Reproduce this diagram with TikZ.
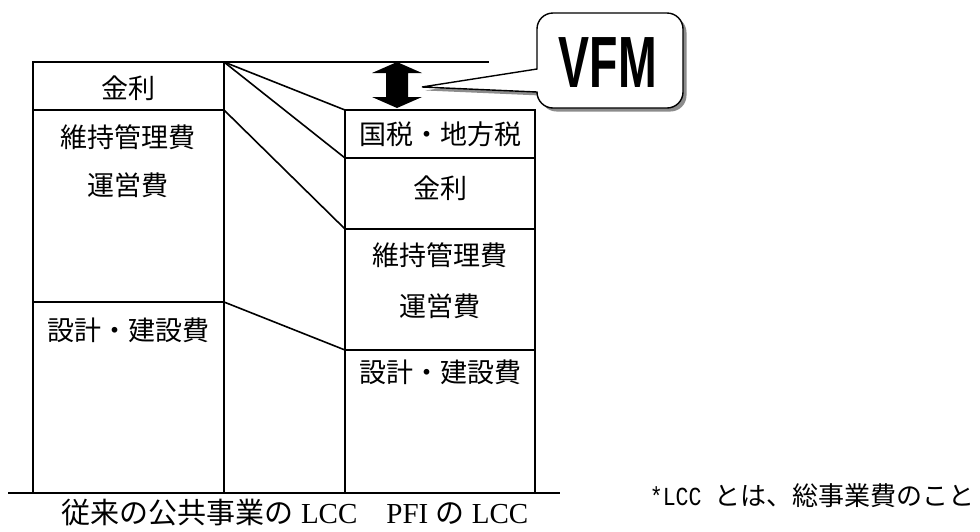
\documentclass[tikz,border=0pt]{standalone}
\usepackage{fontspec}
\usepackage{graphicx}
\setmainfont{Liberation Serif}
\newfontfamily\jp{Noto Sans CJK JP}
\newfontfamily\monofam{Liberation Mono}
\newfontfamily\vfmfam{Liberation Sans}
\begin{document}
\begin{tikzpicture}[x=1pt,y=-1pt,line width=1.6pt,line join=miter,
  lbl/.style={inner sep=0pt,font=\jp\fontsize{27}{27}\selectfont},
  capt/.style={inner sep=0pt,font=\fontsize{29}{29}\selectfont},
  note/.style={inner sep=0pt,anchor=west,font=\fontsize{26}{26}\selectfont}]
\useasboundingbox (0,0) rectangle (980,531);
% coordinates
\coordinate (LTL) at (33,62);   \coordinate (LTR) at (224,62);
\coordinate (TEND) at (489,62);
\coordinate (L1L) at (33,110);  \coordinate (L1R) at (224,110);
\coordinate (L2L) at (33,302);  \coordinate (L2R) at (224,302);
\coordinate (LBL) at (33,493);  \coordinate (LBR) at (224,493);
\coordinate (RTL) at (345,110); \coordinate (RTR) at (535,110);
\coordinate (R1L) at (345,158); \coordinate (R1R) at (535,158);
\coordinate (R2L) at (345,229); \coordinate (R2R) at (535,229);
\coordinate (R3L) at (345,350); \coordinate (R3R) at (535,350);
\coordinate (RBL) at (345,493); \coordinate (RBR) at (535,493);
\coordinate (BL) at (8,493);    \coordinate (BR) at (560,493);
% left column
\draw (LBL) -- (LTL) -- (TEND);
\draw (LTR) -- (LBR);
\draw (L1L) -- (L1R);
\draw (L2L) -- (L2R);
% right column
\draw (RBL) -- (RTL) -- (RTR) -- (RBR);
\draw (R1L) -- (R1R);
\draw (R2L) -- (R2R);
\draw (R3L) -- (R3R);
% connectors
\draw (LTR) -- (RTL);
\draw (LTR) -- (R1L);
\draw (L1R) -- (R2L);
\draw (L2R) -- (R3L);
% base line
\draw[line width=1.9pt] (BL) -- (BR);
% double arrow
\fill (397,62) -- (422,73) -- (408,73) -- (408,97) -- (422,97) -- (397,108)
  -- (372,97) -- (386,97) -- (386,73) -- (372,73) -- cycle;
% callout shadow
\fill[black!45,shift={(3.5,3.5)}] (537,69) -- (537,29) arc[start angle=180,end angle=270,radius=16]
  -- (667,13) arc[start angle=270,end angle=360,radius=16]
  -- (683,92) arc[start angle=0,end angle=90,radius=16]
  -- (553,108) arc[start angle=90,end angle=180,radius=16]
  -- (422,87) -- cycle;
% callout
\draw[fill=white,line width=1.4pt] (537,69) -- (537,29) arc[start angle=180,end angle=270,radius=16]
  -- (667,13) arc[start angle=270,end angle=360,radius=16]
  -- (683,92) arc[start angle=0,end angle=90,radius=16]
  -- (553,108) arc[start angle=90,end angle=180,radius=16]
  -- (422,87) -- cycle;
\node[inner sep=0pt,anchor=base] (vfm) at (608,87)
  {\scalebox{0.64}[1]{\vfmfam\bfseries\fontsize{72.6}{72.6}\selectfont VFM}};
% labels
\node[lbl] (lk) at (128,88) {金利};
\node[lbl] (lm1) at (128,137) {維持管理費};
\node[lbl] (lm2) at (128,185) {運営費};
\node[lbl] (ls) at (128,330) {設計・建設費};
\node[lbl] (rt) at (440,134) {国税・地方税};
\node[lbl] (rk) at (440,188) {金利};
\node[lbl] (rm1) at (440,255) {維持管理費};
\node[lbl] (rm2) at (440,306) {運営費};
\node[lbl] (rs) at (440,372) {設計・建設費};
\node[capt] (cap) at (295,513) {{\jp 従来の公共事業の} LCC{\jp 　}PFI {\jp の} LCC};
\node[note] (nt) at (649,496) {\scalebox{0.83}[1]{\monofam *LCC }{\jp とは、総事業費のこと}};
\end{tikzpicture}
\end{document}
